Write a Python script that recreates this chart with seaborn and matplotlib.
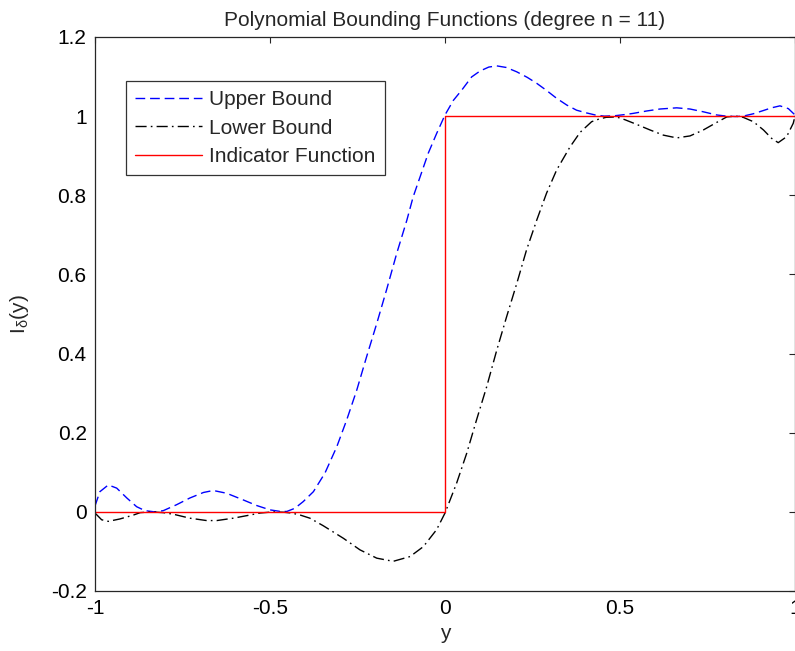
import matplotlib
matplotlib.use("Agg")
import matplotlib.pyplot as plt
import seaborn as sns
import numpy as np
import pandas as pd

# values
upper_x = [-1.000, -0.986, -0.962, -0.938, -0.909, -0.881, -0.857, -0.830, -0.805, -0.767,
           -0.729, -0.690, -0.662, -0.624, -0.576, -0.538, -0.500, -0.470, -0.452, -0.429,
           -0.405, -0.376, -0.343, -0.309, -0.281, -0.252, -0.224, -0.195, -0.167, -0.138,
           -0.109, -0.091, -0.071, -0.048, -0.024, 0.000, 0.024, 0.048, 0.076, 0.100,
           0.125, 0.148, 0.175, 0.205, 0.235, 0.262, 0.290, 0.319, 0.348, 0.376,
           0.405, 0.429, 0.455, 0.485, 0.514, 0.538, 0.576, 0.614, 0.662, 0.700,
           0.738, 0.776, 0.805, 0.830, 0.852, 0.881, 0.909, 0.933, 0.957, 0.981, 1.000]
upper_y = [0.015, 0.051, 0.068, 0.060, 0.035, 0.013, 0.003, 0.000, 0.003, 0.018,
           0.035, 0.049, 0.054, 0.047, 0.030, 0.016, 0.005, 0.001, 0.001, 0.009,
           0.026, 0.051, 0.098, 0.165, 0.232, 0.308, 0.392, 0.476, 0.561, 0.653,
           0.737, 0.796, 0.847, 0.906, 0.956, 1.003, 1.040, 1.066, 1.099, 1.114,
           1.124, 1.127, 1.123, 1.112, 1.098, 1.083, 1.065, 1.045, 1.028, 1.015,
           1.008, 1.003, 1.000, 1.001, 1.004, 1.007, 1.013, 1.018, 1.021, 1.018,
           1.011, 1.003, 1.000, 0.999, 1.000, 1.006, 1.014, 1.021, 1.026, 1.019, 1.003]

lower_x = [-1.000, -0.981, -0.962, -0.929, -0.890, -0.871, -0.840, -0.805, -0.776, -0.729,
           -0.681, -0.652, -0.605, -0.557, -0.529, -0.490, -0.460, -0.438, -0.414, -0.386,
           -0.348, -0.290, -0.243, -0.195, -0.148, -0.100, -0.062, -0.024, 0.000, 0.033,
           0.062, 0.090, 0.119, 0.148, 0.176, 0.205, 0.233, 0.262, 0.290, 0.319,
           0.357, 0.386, 0.419, 0.438, 0.460, 0.490, 0.514, 0.548, 0.586, 0.624,
           0.662, 0.700, 0.738, 0.776, 0.805, 0.830, 0.852, 0.881, 0.910, 0.933,
           0.952, 0.976, 0.995, 1.000]
lower_y = [-0.003, -0.020, -0.024, -0.018, -0.008, -0.002, 0.000, -0.002, -0.006, -0.016,
           -0.022, -0.022, -0.016, -0.008, -0.003, 0.000, -0.001, -0.003, -0.008, -0.016,
           -0.035, -0.067, -0.096, -0.117, -0.125, -0.113, -0.088, -0.045, -0.003, 0.072,
           0.148, 0.232, 0.316, 0.409, 0.493, 0.577, 0.662, 0.737, 0.805, 0.864,
           0.922, 0.959, 0.986, 0.992, 0.997, 0.998, 0.991, 0.979, 0.965, 0.952,
           0.945, 0.950, 0.965, 0.984, 0.998, 1.000, 0.997, 0.986, 0.965, 0.944,
           0.933, 0.948, 0.982, 1.000]

indicator_x = [-1, 0, 0, 1]
indicator_y = [0, 0, 1, 1]

xticks = [-1, -0.5, 0, 0.5, 1]
xtick_labels = ["-1", "-0.5", "0", "0.5", "1"]
yticks = [-0.2, 0, 0.2, 0.4, 0.6, 0.8, 1.0, 1.2]
ytick_labels = ["-0.2", "0", "0.2", "0.4", "0.6", "0.8", "1", "1.2"]

sns.set_style("white")
plt.rcParams['font.family'] = ['Liberation Sans', 'DejaVu Sans']
plt.rcParams['axes.unicode_minus'] = False

fig = plt.figure(figsize=(7.95, 6.51), dpi=100)
ax = fig.add_axes([95 / 795, 60 / 651, 700 / 795, 554 / 651])

upper = pd.DataFrame({'x': upper_x, 'y': upper_y})
lower = pd.DataFrame({'x': lower_x, 'y': lower_y})
ind = pd.DataFrame({'x': indicator_x, 'y': indicator_y})

sns.lineplot(data=upper, x='x', y='y', ax=ax, color='#0000ff', lw=1.0,
             linestyle=(0, (7, 3.5)), label='Upper Bound', sort=False, estimator=None)
sns.lineplot(data=lower, x='x', y='y', ax=ax, color='black', lw=1.0,
             linestyle=(0, (8, 3, 1.2, 3)), label='Lower Bound', sort=False, estimator=None)
sns.lineplot(data=ind, x='x', y='y', ax=ax, color='#ff0000', lw=1.0,
             label='Indicator Function', sort=False, estimator=None)

ax.set_xlim(-1, 1)
ax.set_ylim(-0.2, 1.2)
ax.set_xticks(xticks)
ax.set_xticklabels(xtick_labels)
ax.set_yticks(yticks)
ax.set_yticklabels(ytick_labels)
ax.tick_params(direction='in', top=True, right=True, length=4.5, width=0.8,
               labelsize=15, pad=6, colors='#262626', labelcolor='black')
for s in ax.spines.values():
    s.set_color('#262626')
    s.set_linewidth(0.9)

ax.set_title('Polynomial Bounding Functions (degree n = 11)', fontsize=15, pad=8)
ax.set_xlabel('y', fontsize=15, labelpad=4)
ax.set_ylabel(r'I$_{\mathregular{\delta}}$(y)', fontsize=15, labelpad=14)

leg = ax.legend(loc='upper left', bbox_to_anchor=(0.044, 0.921), borderaxespad=0,
                fontsize=15, frameon=True, fancybox=False, edgecolor='black',
                handlelength=3.2, handletextpad=0.35, labelspacing=0.45,
                borderpad=0.45)
leg.get_frame().set_linewidth(0.9)

fig.savefig('out.png', dpi=100)
